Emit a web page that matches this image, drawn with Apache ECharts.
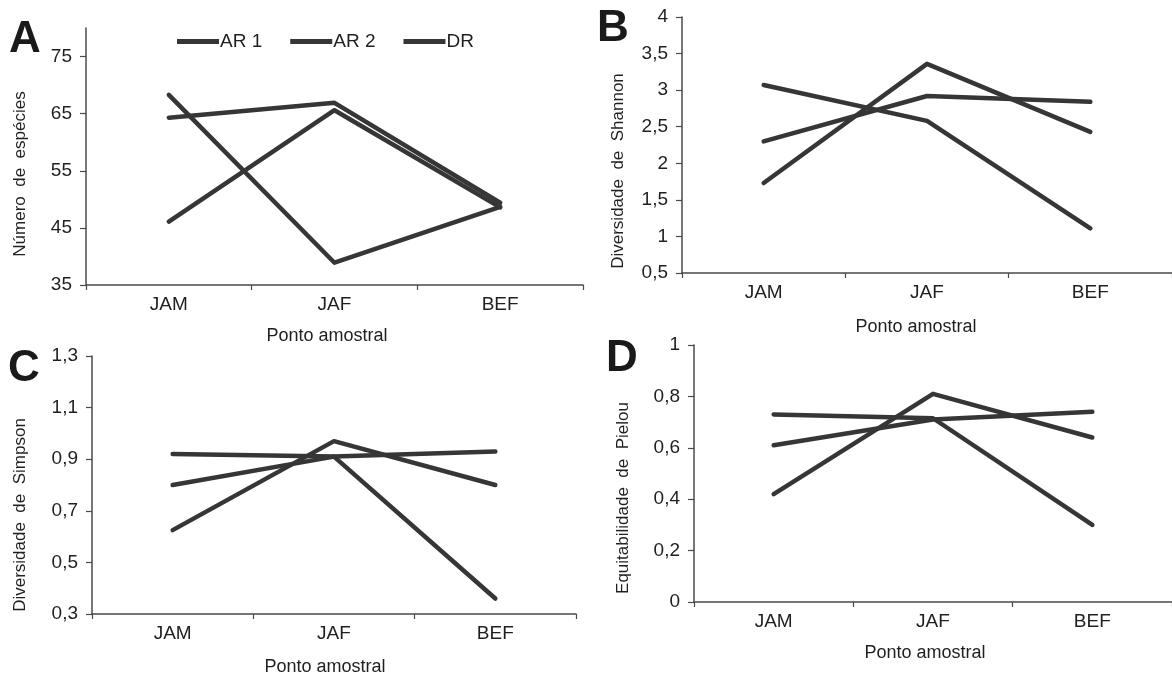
<!DOCTYPE html>
<html>
<head>
<meta charset="utf-8">
<script src="https://cdn.jsdelivr.net/npm/echarts@6/dist/echarts.min.js"></script>
<style>
html,body{margin:0;padding:0;background:#fff;}
#chart{width:1172px;height:679px;}
</style>
</head>
<body>
<div id="chart"></div>
<script>
const categories = ['JAM', 'JAF', 'BEF'];
const seriesNames = ['AR 1', 'AR 2', 'DR'];

const richnessAR1 = [68.3, 38.9, 48.7];
const richnessAR2 = [64.3, 66.9, 49.4];
const richnessDR  = [46.1, 65.6, 48.6];

const shannonAR1 = [3.07, 2.58, 1.11];
const shannonAR2 = [1.73, 3.36, 2.43];
const shannonDR  = [2.30, 2.92, 2.84];

const simpsonAR1 = [0.92, 0.91, 0.36];
const simpsonAR2 = [0.625, 0.97, 0.80];
const simpsonDR  = [0.80, 0.91, 0.93];

const pielouAR1 = [0.73, 0.715, 0.30];
const pielouAR2 = [0.42, 0.81, 0.64];
const pielouDR  = [0.61, 0.71, 0.74];

const ticksA = [35, 45, 55, 65, 75];
const ticksB = [0.5, 1, 1.5, 2, 2.5, 3, 3.5, 4];
const ticksC = [0.3, 0.5, 0.7, 0.9, 1.1, 1.3];
const ticksD = [0, 0.2, 0.4, 0.6, 0.8, 1];

const panelLetters = ['A', 'B', 'C', 'D'];
const yTitles = ['Número  de  espécies', 'Diversidade  de  Shannon', 'Diversidade  de  Simpson', 'Equitabilidade  de  Pielou'];
const xTitle = 'Ponto amostral';

const INK = '#1f1f1f';
const LINE = '#363636';
const AXIS = '#4a4a4a';
const FONT = '"Liberation Sans", Arial, sans-serif';

const grids = [
  { left: 86, top: 28, width: 497, height: 257 },
  { left: 682, top: 17, width: 492, height: 256 },
  { left: 92, top: 356, width: 484, height: 258 },
  { left: 694, top: 345, width: 489, height: 257 }
];
const yRanges = [[35, 80], [0.5, 4], [0.3, 1.3], [0, 1]];
const yTicks = [ticksA, ticksB, ticksC, ticksD];
const panelData = [
  [richnessAR1, richnessAR2, richnessDR],
  [shannonAR1, shannonAR2, shannonDR],
  [simpsonAR1, simpsonAR2, simpsonDR],
  [pielouAR1, pielouAR2, pielouDR]
];

const xAxes = grids.map((g, i) => ({
  type: 'category', gridIndex: i, data: categories, boundaryGap: true,
  axisLine: { show: true, lineStyle: { color: AXIS, width: 1.5 } },
  axisTick: { show: true, alignWithLabel: false, length: 5, lineStyle: { color: AXIS, width: 1.2 } },
  axisLabel: { color: INK, fontSize: 19, fontFamily: FONT, margin: 10 },
  splitLine: { show: false }
}));

const yAxes = grids.map((g, i) => ({
  type: 'value', gridIndex: i, min: yRanges[i][0], max: yRanges[i][1],
  axisLine: { show: true, lineStyle: { color: AXIS, width: 1.5 } },
  axisTick: { show: true, length: 6, customValues: yTicks[i], lineStyle: { color: AXIS, width: 1.2 } },
  axisLabel: {
    show: true, customValues: yTicks[i], color: INK, fontSize: 19, fontFamily: FONT, margin: 14,
    formatter: v => String(v).replace('.', ',')
  },
  splitLine: { show: false }
}));

const series = [];
panelData.forEach((sets, i) => {
  sets.forEach((vals, k) => {
    series.push({
      type: 'line', name: seriesNames[k], xAxisIndex: i, yAxisIndex: i,
      data: vals, symbol: 'none', silent: true,
      lineStyle: { color: LINE, width: 4.5, cap: 'round', join: 'round' },
      itemStyle: { color: LINE }
    });
  });
});

const letterPos = [[25, 40], [613, 29], [24, 369], [622, 359]];
const yTitlePos = [[20, 174], [618, 171], [20, 515], [623, 498]];
const xTitlePos = [[327, 336], [916, 327], [325, 667], [925, 653]];

const graphics = [];
panelLetters.forEach((L, i) => {
  graphics.push({ type: 'text', x: letterPos[i][0], y: letterPos[i][1], silent: true,
    style: { text: L, fontSize: 44, fontWeight: 'bold', fontFamily: FONT, fill: '#1a1a1a', textAlign: 'center', textVerticalAlign: 'middle' } });
  graphics.push({ type: 'text', x: yTitlePos[i][0], y: yTitlePos[i][1], rotation: Math.PI / 2, silent: true,
    style: { text: yTitles[i], fontSize: 17, fontFamily: FONT, fill: INK, textAlign: 'center', textVerticalAlign: 'middle' } });
  graphics.push({ type: 'text', x: xTitlePos[i][0], y: xTitlePos[i][1], silent: true,
    style: { text: xTitle, fontSize: 18, fontFamily: FONT, fill: INK, textAlign: 'center', textVerticalAlign: 'middle' } });
});

const chart = echarts.init(document.getElementById('chart'), null, { renderer: 'canvas' });
chart.setOption({
  backgroundColor: '#ffffff',
  animation: false,
  legend: {
    data: seriesNames, left: 172, top: 27, itemWidth: 42, itemHeight: 5, itemGap: 28,
    icon: 'rect',
    itemStyle: { color: LINE },
    textStyle: { color: INK, fontSize: 19, fontFamily: FONT, padding: [0, 0, 0, -4] },
    selectedMode: false
  },
  grid: grids,
  xAxis: xAxes,
  yAxis: yAxes,
  series: series,
  graphic: graphics
});
</script>
</body>
</html>
